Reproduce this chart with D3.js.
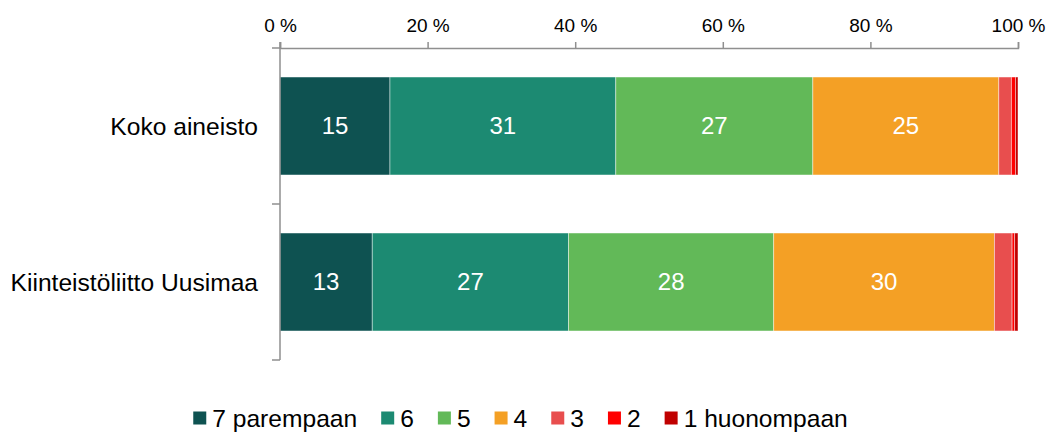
<!DOCTYPE html>
<html><head><meta charset="utf-8">
<script src="https://cdn.jsdelivr.net/npm/d3@7"></script>
<style>
html,body{margin:0;padding:0;background:#fff;}
svg{display:block;font-family:"Liberation Sans",Arial,sans-serif;}
</style></head>
<body>
<svg id="chart" width="1049" height="432"></svg>
<script>
const categories = ["Koko aineisto", "Kiinteistöliitto Uusimaa"];
const seriesNames = ["7 parempaan", "6", "5", "4", "3", "2", "1 huonompaan"];
const seriesColors = ["#0e5251", "#1c8a72", "#62b958", "#f4a025", "#e84e4e", "#ff0000", "#c00000"];
const kokoValues = [14.9, 30.6, 26.7, 25.2, 1.7, 0.55, 0.35];
const uusimaaValues = [12.5, 26.6, 27.8, 29.9, 2.4, 0.35, 0.45];
const tickValues = [0, 20, 40, 60, 80, 100];

const values = [kokoValues, uusimaaValues];
const svg = d3.select("#chart");
const x0 = 280, x1 = 1018, yTop = 48, yBot = 360;

const x = d3.scaleLinear().domain([0, 100]).range([x0, x1]);
const y = d3.scaleBand().domain(categories).range([yTop, yBot]).paddingInner(0.372).paddingOuter(0.186);
const axisColor = "#8f8f8f";

// top axis
const xAxis = d3.axisTop(x).tickValues(tickValues).tickFormat(d => d + " %").tickSize(6).tickPadding(10);
const gx = svg.append("g").attr("transform", `translate(0,${yTop})`).call(xAxis);
gx.select(".domain").attr("stroke", axisColor).attr("stroke-width", 1.5);
gx.selectAll(".tick line").attr("stroke", axisColor).attr("stroke-width", 1.5);
gx.selectAll(".tick text").attr("fill", "#000").style("font-size", "19px").style("font-family", "Liberation Sans, Arial, sans-serif");

// bars
categories.forEach((cat, ci) => {
  let cum = 0;
  const g = svg.append("g");
  values[ci].forEach((v, si) => {
    const start = cum; cum += v;
    g.append("rect")
      .attr("x", x(start)).attr("y", y(cat))
      .attr("width", x(cum) - x(start)).attr("height", y.bandwidth())
      .attr("fill", seriesColors[si])
      .attr("stroke", "rgba(255,255,255,0.55)").attr("stroke-width", 0.8);
    if (v >= 5) {
      g.append("text")
        .attr("x", (x(start) + x(cum)) / 2).attr("y", y(cat) + y.bandwidth() / 2)
        .attr("dy", "0.35em").attr("text-anchor", "middle")
        .attr("fill", "#fff").style("font-size", "24px")
        .text(Math.round(v));
    }
  });
});

// category axis (left)
const step = y.step();
const bounds = [yTop].concat(categories.map(c => y(c) + y.bandwidth() + step * y.paddingInner() / 2));
bounds[bounds.length - 1] = yBot;
svg.append("line").attr("x1", x0).attr("x2", x0).attr("y1", yTop - 6).attr("y2", yBot)
  .attr("stroke", axisColor).attr("stroke-width", 1.5);
bounds.forEach(b => {
  svg.append("line").attr("x1", x0 - 8).attr("x2", x0).attr("y1", b).attr("y2", b)
    .attr("stroke", axisColor).attr("stroke-width", 1.5);
});
categories.forEach(cat => {
  svg.append("text").attr("x", x0 - 22).attr("y", y(cat) + y.bandwidth() / 2)
    .attr("dy", "0.35em").attr("text-anchor", "end").attr("fill", "#000")
    .style("font-size", "24.6px").text(cat);
});

// legend
const lg = svg.append("g");
let lx = 0;
const gap = 24;
seriesNames.forEach((name, i) => {
  const item = lg.append("g").attr("transform", `translate(${lx},0)`);
  item.append("rect").attr("x", 0).attr("y", -6.5).attr("width", 13).attr("height", 13).attr("fill", seriesColors[i]);
  const t = item.append("text").attr("x", 19).attr("y", 0).attr("dy", "0.35em").attr("fill", "#000")
    .style("font-size", "24.6px").text(name);
  lx += 19 + t.node().getComputedTextLength() + gap;
});
const totalW = lx - gap;
lg.attr("transform", `translate(${(1049 - totalW) / 2 - 4},418)`);
</script>
</body></html>
